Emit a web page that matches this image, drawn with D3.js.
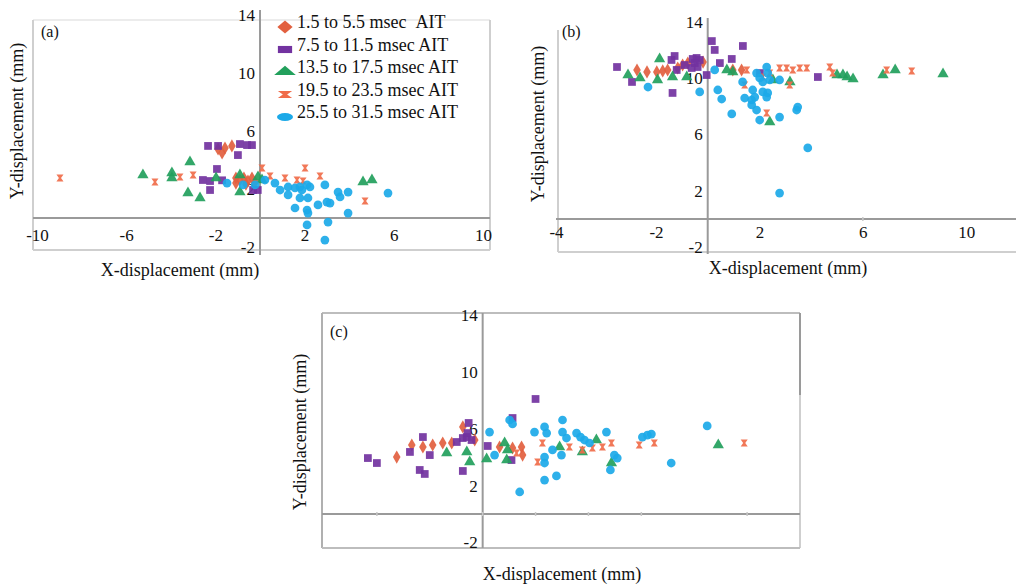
<!DOCTYPE html>
<html>
<head>
<meta charset="utf-8">
<script src="https://cdn.jsdelivr.net/npm/d3@7"></script>
<style>
  body { margin: 0; background: #fff; }
  svg { display: block; }
</style>
</head>
<body>
<svg id="chart" width="1016" height="587"></svg>
<script>
// legend / series
var seriesNames = ["1.5 to 5.5 msec \u00a0AIT", "7.5 to 11.5 msec AIT", "13.5 to 17.5 msec AIT",
  "19.5 to 23.5 msec AIT", "25.5 to 31.5 msec AIT"];
var yTicks = [-2, 2, 6, 10, 14];
var xTicksA = [-10, -6, -2, 2, 6, 10];
var xTicksB = [-4, -2, 2, 6, 10];
var xTicksC = [-4, 0, 2, 4, 6, 10];

// panel (a) points, [x, y] in mm
var a1 = [[-1.88,4.76],[-1.57,4.83],[-1.26,4.97],[-1.70,4.48],[-1.08,2.76],[-0.90,2.62],[-0.72,2.76],
  [-0.54,2.55],[-0.36,2.76],[-0.63,2.34],[-1.08,2.41],[-0.22,2.48]];
var a2 = [[-2.33,4.97],[-1.88,4.97],[-0.90,5.10],[-0.58,5.03],[-0.36,5.03],[-0.99,4.34],[-1.93,3.38],
  [-2.56,2.62],[-2.24,2.55],[-2.24,1.93],[-0.31,1.93],[-0.10,1.93],[-1.70,2.60]];
var a3 = [[-5.25,2.97],[-3.95,3.10],[-3.95,2.76],[-3.14,3.86],[-3.23,1.72],[-2.69,1.38],[-1.97,2.76],
  [-0.90,1.79],[-0.90,2.97],[-0.09,2.83],[0.09,2.62],[4.62,2.48],[5.02,2.62]];
var a4 = [[-8.97,2.76],[-4.71,2.48],[-3.59,2.83],[-3.00,2.97],[0.09,3.45],[0.45,2.90],[1.12,2.76],
  [1.66,2.62],[1.93,2.55],[2.02,3.45],[2.69,2.90],[4.71,1.17]];
var a5 = [[-1.48,2.41],[-0.76,2.28],[-0.22,2.28],[0.22,2.62],[0.67,2.41],[0.90,1.93],[1.26,2.14],
  [1.26,1.59],[1.57,2.07],[1.79,2.14],[1.88,1.93],[2.11,2.28],[2.24,2.14],[1.79,1.38],[2.15,1.38],
  [2.60,0.90],[2.91,2.28],[3.00,1.10],[3.14,1.03],[3.50,1.79],[3.59,1.45],[3.95,1.79],[3.95,0.34],
  [1.57,0.69],[2.11,0.55],[2.15,0.34],[3.05,-0.28],[2.11,-0.48],[2.91,-1.52],[5.74,1.72]];

// panel (b)
var b1 = [[-2.38,10.57],[-2.18,10.43],[-1.97,10.43],[-1.74,10.50],[-1.55,10.57],[-1.16,10.71],
  [-0.97,10.92],[-0.77,11.06],[-0.18,11.13],[0.97,10.57],[1.31,10.57]];
var b2 = [[-2.78,10.78],[-2.48,9.72],[-1.28,11.56],[-1.40,11.28],[-1.20,10.57],[-0.89,10.92],
  [-0.58,11.35],[-0.43,11.42],[-0.31,11.28],[-0.50,11.06],[-0.39,10.78],[-0.62,10.71],[-0.04,10.21],
  [0.16,12.62],[0.27,11.99],[0.47,11.06],[0.93,11.35],[1.36,12.27],[2.02,10.35],[4.26,10.07],[-1.36,8.94]];
var b3 = [[-2.56,10.21],[-2.32,10.00],[-1.86,11.35],[-1.94,9.86],[-1.36,10.07],[-0.81,10.07],
  [0.74,10.57],[0.97,10.43],[2.52,9.86],[3.18,9.72],[2.40,6.88],[5.00,10.21],[5.23,10.21],
  [5.39,10.07],[5.62,9.93],[6.78,10.21],[7.25,10.57],[9.10,10.28]];
var b4 = [[1.51,10.57],[1.43,9.50],[2.13,10.07],[2.40,10.35],[2.78,10.71],[3.05,10.71],[3.29,10.57],
  [3.56,10.71],[3.83,10.71],[3.17,9.50],[4.72,10.78],[4.83,10.35],[2.28,7.52],[6.92,10.57],[7.89,10.50]];
var b5 = [[-2.16,9.36],[-0.31,9.01],[0.27,10.57],[0.39,9.15],[0.54,8.51],[0.93,7.45],[1.35,9.72],
  [1.43,8.58],[1.70,8.44],[1.74,9.15],[1.82,8.65],[1.89,10.35],[2.01,10.00],[2.13,9.72],[2.28,10.78],
  [2.32,10.35],[2.40,9.86],[1.89,7.73],[1.70,8.09],[2.01,7.02],[2.78,7.23],[2.13,9.01],[2.32,8.94],
  [2.28,8.65],[2.78,9.86],[3.44,7.73],[3.48,7.94],[3.87,5.04],[2.78,1.84]];

// panel (c)
var c1 = [[-3.25,4.01],[-2.68,4.86],[-2.26,4.72],[-1.89,4.86],[-1.51,5.00],[-1.17,5.00],[-0.75,6.13],
  [-0.30,5.21],[0.64,4.72],[1.13,4.65],[1.47,4.72],[1.51,4.15]];
var c2 = [[-4.34,3.94],[-4.00,3.59],[-2.75,4.37],[-2.26,5.42],[-2.00,4.15],[-2.38,3.10],[-2.19,2.82],
  [-0.75,3.03],[-0.53,6.41],[-0.98,5.07],[-0.75,5.35],[-0.60,5.42],[-0.57,5.70],[-0.42,5.21],
  [0.19,4.79],[1.09,3.80],[1.13,6.76],[2.00,8.10]];
var c3 = [[-1.36,4.30],[-0.60,4.37],[-0.49,3.66],[0.15,3.87],[0.83,5.00],[0.94,4.51],[0.91,3.80],
  [2.91,4.72],[3.77,4.37],[4.30,5.21],[4.87,3.59],[8.91,4.86]];
var c4 = [[2.26,5.00],[2.08,3.66],[1.28,4.30],[3.28,4.72],[3.77,4.51],[4.15,4.65],[4.53,4.72],
  [4.87,5.00],[5.92,4.86],[6.49,5.00],[9.89,5.00]];
var c5 = [[0.26,5.77],[1.02,6.62],[1.13,6.34],[1.40,1.55],[1.96,5.77],[2.34,6.13],[2.42,5.70],
  [2.34,4.01],[2.34,3.59],[2.34,2.39],[2.79,2.68],[3.02,6.62],[3.02,5.77],[3.17,5.35],[2.98,4.15],
  [3.55,5.70],[3.70,5.42],[3.85,5.21],[4.04,5.00],[4.68,5.77],[4.98,4.15],[5.09,3.94],[4.83,3.10],
  [6.04,5.42],[6.23,5.56],[6.38,5.63],[7.13,3.59],[8.49,6.20],[2.64,4.51],[0.45,4.15]];

var colors = ["#e2603f", "#7232a0", "#22a05c", "#f06c4a", "#1ca9e8"];
var font = "'Liberation Serif', 'Times New Roman', serif";

var hourglass = {
  draw: function(ctx, size) {
    var s = Math.sqrt(size) / 2;
    ctx.moveTo(-s, -s); ctx.lineTo(s, -s); ctx.lineTo(s * 0.3, 0);
    ctx.lineTo(s, s); ctx.lineTo(-s, s); ctx.lineTo(-s * 0.3, 0); ctx.closePath();
  }
};
var symbols = [d3.symbolDiamond, d3.symbolSquare, d3.symbolTriangle, hourglass, d3.symbolCircle];
var sizes = [50, 60, 55, 50, 60];

// plain hyphen minus like the original print
var fmt = function(d) { return String(d); };

var svg = d3.select("#chart");

function drawPanel(p) {
  var g = svg.append("g");
  var x = p.x, y = p.y;

  // light frame
  p.frame.forEach(function(f) {
    g.append("line")
      .attr("x1", f[0]).attr("y1", f[1]).attr("x2", f[2]).attr("y2", f[3])
      .style("stroke", f[4] || "#cfcfcf")
      .style("stroke-width", 2);
  });

  // axes lines through zero
  g.append("line")
    .attr("x1", p.xAxisExtent[0]).attr("x2", p.xAxisExtent[1])
    .attr("y1", y(0)).attr("y2", y(0))
    .style("stroke", "#9a9a9a").style("stroke-width", 2);
  g.append("line")
    .attr("x1", x(0)).attr("x2", x(0))
    .attr("y1", p.yAxisExtent[0]).attr("y2", p.yAxisExtent[1])
    .style("stroke", "#9a9a9a").style("stroke-width", 2);

  // small tick marks on the x axis line
  g.selectAll(".xt")
    .data(p.xMarks)
    .enter().append("line")
    .attr("x1", function(d) { return x(d); })
    .attr("x2", function(d) { return x(d); })
    .attr("y1", y(0) - 2).attr("y2", y(0) + 2)
    .style("stroke", "#c8c8c8").style("stroke-width", 1.5);

  // y tick labels
  var yAxis = g.append("g")
    .attr("transform", "translate(" + (x(0) - 5) + ",0)")
    .call(d3.axisLeft(y).tickValues(yTicks).tickFormat(fmt).tickSize(0).tickPadding(0));
  yAxis.select(".domain").remove();
  yAxis.selectAll("text")
    .style("font-family", font).style("font-size", "17px").style("fill", "#111");

  // x tick labels
  if (p.xLabels) {
    var xAxis = g.append("g")
      .attr("transform", "translate(0," + p.xLabelY + ")")
      .call(d3.axisBottom(x).tickValues(p.xLabels).tickFormat(fmt).tickSize(0).tickPadding(0));
    xAxis.select(".domain").remove();
    xAxis.selectAll("text")
      .style("font-family", font).style("font-size", "17px").style("fill", "#111");
  }

  // points
  p.series.forEach(function(data, i) {
    g.selectAll(".s" + i)
      .data(data)
      .enter().append("path")
      .attr("class", "s" + i)
      .attr("d", d3.symbol().type(symbols[i]).size(sizes[i]))
      .attr("transform", function(d) {
        return "translate(" + x(d[0]) + "," + y(d[1]) + ")";
      })
      .style("fill", colors[i])
      .style("opacity", 0.92);
  });

  // panel label
  g.append("text")
    .attr("x", p.tag[1]).attr("y", p.tag[2])
    .style("font-family", font).style("font-size", "16px").style("fill", "#111")
    .text(p.tag[0]);

  // axis titles
  g.append("text")
    .attr("x", p.xTitle[0]).attr("y", p.xTitle[1])
    .style("font-family", font).style("font-size", "18px").style("fill", "#111")
    .style("text-anchor", "middle")
    .text("X-displacement (mm)");
  g.append("text")
    .attr("transform", "translate(" + p.yTitle[0] + "," + p.yTitle[1] + ") rotate(-90)")
    .style("font-family", font).style("font-size", "18px").style("fill", "#111")
    .style("text-anchor", "middle")
    .text("Y-displacement (mm)");
}

// (a)
var xa = d3.scaleLinear().domain([-10, 10]).range([37, 483]);
var ya = d3.scaleLinear().domain([-2, 14]).range([247, 15]);
drawPanel({
  x: xa, y: ya,
  frame: [[33, 20, 490, 20, "#ececec"], [33, 20, 33, 250], [490, 20, 490, 250], [33, 250, 490, 250]],
  xAxisExtent: [33, 490], yAxisExtent: [10, 255],
  xMarks: [], xLabels: xTicksA, xLabelY: 229,
  series: [a1, a2, a3, a4, a5],
  tag: ["(a)", 41, 37],
  xTitle: [180, 276], yTitle: [23, 121]
});

// (b) -- the "-4" label sits at the frame edge, left of the regular spacing
var xb = d3.scaleLinear().domain([-4, -2, 12]).range([556, 656, 1018]);
var yb = d3.scaleLinear().domain([-2, 14]).range([247.2, 21.6]);
drawPanel({
  x: xb, y: yb,
  frame: [[558, 30, 558, 252], [558, 252, 1016, 252]],
  xAxisExtent: [556, 1016], yAxisExtent: [18, 254],
  xMarks: [6], xLabels: xTicksB, xLabelY: 226,
  series: [b1, b2, b3, b4, b5],
  tag: ["(b)", 562, 37],
  xTitle: [788, 274], yTitle: [544, 124]
});

// (c)
var xc = d3.scaleLinear().domain([-6, 12]).range([324, 800]);
var yc = d3.scaleLinear().domain([-2, 14]).range([542.4, 315.2]);
drawPanel({
  x: xc, y: yc,
  frame: [[322, 313, 800, 313, "#bdbdbd"], [322, 313, 322, 548, "#b0b0b0"], [800, 313, 800, 395, "#9a9a9a"],
    [800, 395, 800, 548, "#cfcfcf"], [322, 548, 800, 548, "#bdbdbd"]],
  xAxisExtent: [322, 800], yAxisExtent: [313, 548],
  xMarks: xTicksC, xLabels: null,
  series: [c1, c2, c3, c4, c5],
  tag: ["(c)", 330, 337],
  xTitle: [562, 580], yTitle: [306, 432]
});

// legend of panel (a)
var legend = svg.selectAll(".legend")
  .data(seriesNames)
  .enter().append("g")
  .attr("class", "legend")
  .attr("transform", function(d, i) { return "translate(285," + (27 + i * 22.5) + ")"; });

legend.append("path")
  .attr("d", function(d, i) { return d3.symbol().type(symbols[i]).size(70)(); })
  .attr("transform", "scale(1.7,0.85)")
  .style("fill", function(d, i) { return colors[i]; });

legend.append("text")
  .attr("x", 12)
  .attr("y", 1)
  .style("font-family", font)
  .style("font-size", "18px")
  .style("fill", "#111")
  .text(function(d) { return d; });
</script>
</body>
</html>
